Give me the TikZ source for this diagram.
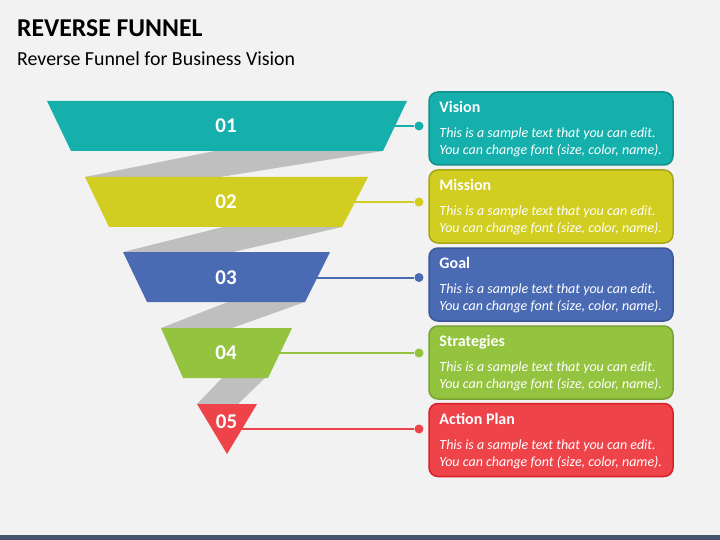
\documentclass[tikz,border=0pt]{standalone}
\usepackage{fontspec}
\setmainfont{Carlito}
\usetikzlibrary{positioning, shapes}
\definecolor{bgcol}{HTML}{F2F2F2}
\definecolor{stripecol}{HTML}{44546A}
\definecolor{bandcol}{HTML}{BFBFBF}
\definecolor{tealfill}{HTML}{15AFAC}
\definecolor{tealedge}{HTML}{138F8C}
\definecolor{yellowfill}{HTML}{D1CD21}
\definecolor{yellowedge}{HTML}{A9A51A}
\definecolor{bluefill}{HTML}{4A6BB4}
\definecolor{blueedge}{HTML}{3A5899}
\definecolor{greenfill}{HTML}{94C33F}
\definecolor{greenedge}{HTML}{77A132}
\definecolor{redfill}{HTML}{EF434A}
\definecolor{rededge}{HTML}{DA1F28}
\tikzset{
    infobox/.style={rectangle, rounded corners=9pt, line width=1.5pt, minimum width=244pt, minimum height=73pt},
    boxhead/.style={font=\bfseries\fontsize{16}{19}\selectfont, text=white, inner sep=0pt, anchor=base west},
    boxtext/.style={font=\itshape\fontsize{14}{17.4}\selectfont, text=white, align=left, inner sep=0pt, anchor=base west},
    numlabel/.style={font=\bfseries\fontsize{21}{24}\selectfont, text=white, inner sep=0pt},
    myline/.style={line width=2pt},
    mydot/.style={circle, inner sep=0pt, minimum size=9pt}
}
\begin{document}
\begin{tikzpicture}[x=1pt, y=-1pt]

        % ------------------
        % background
        % ------------------

        \useasboundingbox (0,0) rectangle (720,540);
        \fill[bgcol] (0,0) rectangle (720,540);
        \fill[stripecol] (0,535) rectangle (720,540);

        \node[font=\bfseries\fontsize{25.7}{30}\selectfont, inner sep=0pt, anchor=base west] (title) at (17,36.7) {REVERSE FUNNEL};
        \node[font=\fontsize{19.9}{23}\selectfont, inner sep=0pt, anchor=base west] (subtitle) at (17,65.7) {Reverse Funnel for Business Vision};

        % ------------------
        % funnel
        % ------------------

        \fill[bandcol] (215,151) -- (383,151) -- (220,177) -- (85,177) -- cycle;
        \fill[bandcol] (223,227) -- (342,227) -- (233,252) -- (123,252) -- cycle;
        \fill[bandcol] (228,302) -- (305,302) -- (232,328) -- (161,328) -- cycle;
        \fill[bandcol] (222,378) -- (265,378) -- (238,404) -- (197,404) -- cycle;

        \fill[tealfill] (47,101) -- (407,101) -- (383,151) -- (71,151) -- cycle;
        \fill[yellowfill] (85,177) -- (368,177) -- (342,227) -- (109,227) -- cycle;
        \fill[bluefill] (123,252) -- (330,252) -- (305,302) -- (147,302) -- cycle;
        \fill[greenfill] (161,328) -- (292,328) -- (268,378) -- (183,378) -- cycle;
        \fill[redfill] (197,404) -- (257,404) -- (227,454) -- cycle;

        \node[numlabel] (num1) at (226,126) {01};
        \node[numlabel] (num2) at (226,202) {02};
        \node[numlabel] (num3) at (226,277.5) {03};
        \node[numlabel] (num4) at (226,353) {04};
        \node[numlabel] (num5) at (226.5,421.5) {05};

        % ------------------
        % boxes
        % ------------------

        \node[infobox, draw=tealedge, fill=tealfill] (box1) at (551,128.5) {};
        \node[infobox, draw=yellowedge, fill=yellowfill] (box2) at (551,206.5) {};
        \node[infobox, draw=blueedge, fill=bluefill] (box3) at (551,284.5) {};
        \node[infobox, draw=greenedge, fill=greenfill] (box4) at (551,362.5) {};
        \node[infobox, draw=rededge, fill=redfill] (box5) at (551,440) {};

        \node[boxhead] (head1) at ([shift={(11,21.5)}]box1.north west) {Vision};
        \node[boxtext] (text1) at ([shift={(11,63.7)}]box1.north west) {This is a sample text that you can edit.\\You can change font (size, color, name).};
        \node[boxhead] (head2) at ([shift={(11,21.5)}]box2.north west) {Mission};
        \node[boxtext] (text2) at ([shift={(11,63.7)}]box2.north west) {This is a sample text that you can edit.\\You can change font (size, color, name).};
        \node[boxhead] (head3) at ([shift={(11,21.5)}]box3.north west) {Goal};
        \node[boxtext] (text3) at ([shift={(11,63.7)}]box3.north west) {This is a sample text that you can edit.\\You can change font (size, color, name).};
        \node[boxhead] (head4) at ([shift={(11,21.5)}]box4.north west) {Strategies};
        \node[boxtext] (text4) at ([shift={(11,63.7)}]box4.north west) {This is a sample text that you can edit.\\You can change font (size, color, name).};
        \node[boxhead] (head5) at ([shift={(11,21.5)}]box5.north west) {Action Plan};
        \node[boxtext] (text5) at ([shift={(11,63.7)}]box5.north west) {This is a sample text that you can edit.\\You can change font (size, color, name).};

        % ------------------
        % connectors
        % ------------------

        \coordinate (start1) at (380,126);
        \coordinate (start2) at (340,202);
        \coordinate (start3) at (300,277.5);
        \coordinate (start4) at (265,353);
        \coordinate (start5) at (235,429);

        \node[mydot, fill=tealfill] (dot1) at (419,126) {};
        \node[mydot, fill=yellowfill] (dot2) at (419,202) {};
        \node[mydot, fill=bluefill] (dot3) at (419,277.5) {};
        \node[mydot, fill=greenfill] (dot4) at (419,353) {};
        \node[mydot, fill=redfill] (dot5) at (419,429) {};

        \draw[myline, tealfill] (start1) -- (dot1);
        \draw[myline, yellowfill] (start2) -- (dot2);
        \draw[myline, bluefill] (start3) -- (dot3);
        \draw[myline, greenfill] (start4) -- (dot4);
        \draw[myline, redfill] (start5) -- (dot5);

\end{tikzpicture}
\end{document}
